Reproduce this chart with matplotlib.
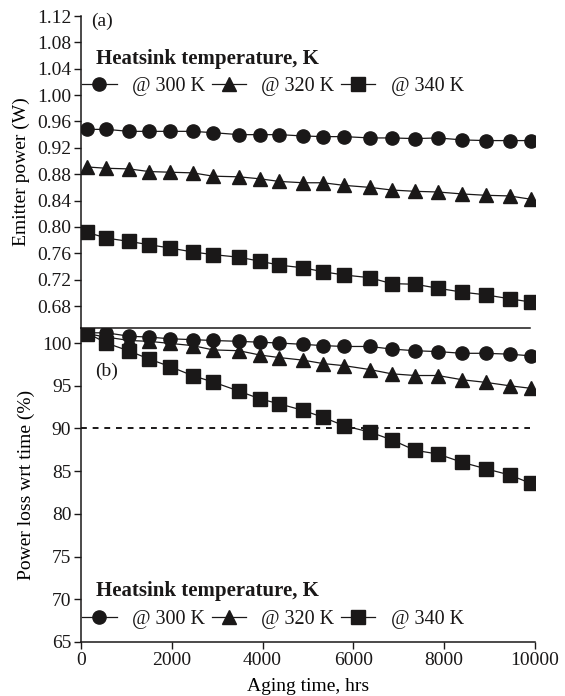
import numpy as np
import matplotlib
matplotlib.use('Agg')
import matplotlib.pyplot as plt
from matplotlib.ticker import FormatStrFormatter

plt.rcParams['font.family'] = ['Liberation Serif', 'DejaVu Serif']
plt.rcParams['font.size'] = 14

# aging time of each measurement (hrs)
hours = [125, 560, 1060, 1500, 1960, 2460, 2910, 3480, 3940, 4370, 4890,
         5330, 5800, 6360, 6840, 7360, 7860, 8400, 8910, 9440, 9910]

# emitter power (W)
power_300 = [0.948, 0.948, 0.945, 0.945, 0.945, 0.945, 0.943, 0.940, 0.940, 0.940, 0.938,
             0.937, 0.937, 0.935, 0.935, 0.934, 0.935, 0.932, 0.931, 0.931, 0.931]
power_320 = [0.891, 0.889, 0.888, 0.884, 0.883, 0.882, 0.877, 0.876, 0.873, 0.869, 0.867,
             0.867, 0.863, 0.860, 0.856, 0.854, 0.853, 0.850, 0.848, 0.847, 0.842]
power_340 = [0.792, 0.783, 0.778, 0.773, 0.768, 0.762, 0.758, 0.754, 0.748, 0.742, 0.738,
             0.732, 0.727, 0.723, 0.714, 0.713, 0.707, 0.701, 0.697, 0.691, 0.686]

# power relative to start (%)
loss_300 = [101.2, 101.2, 100.8, 100.7, 100.5, 100.4, 100.3, 100.2, 100.1, 100.0, 99.85,
            99.7, 99.6, 99.6, 99.3, 99.1, 99.0, 98.8, 98.8, 98.7, 98.5]
loss_320 = [101.1, 100.7, 100.3, 100.2, 99.96, 99.7, 99.2, 99.1, 98.6, 98.3, 98.0,
            97.6, 97.35, 96.9, 96.4, 96.2, 96.2, 95.7, 95.4, 95.0, 94.7]
loss_340 = [101.2, 100.0, 99.07, 98.13, 97.25, 96.18, 95.44, 94.37, 93.47, 92.88, 92.12,
            91.31, 90.31, 89.58, 88.68, 87.44, 87.01, 86.03, 85.29, 84.56, 83.57]

labels = ['@ 300 K', '@ 320 K', '@ 340 K']
markers = ['o', '^', 's']
ink = '#1a1818'
legend_title = 'Heatsink temperature, K'

fig = plt.figure(figsize=(5.65, 6.96), dpi=100)
ax2 = fig.add_axes([0.1434, 0.0776, 0.8035, 0.4511])
ax1 = fig.add_axes([0.1434, 0.5287, 0.8035, 0.4483])
ax1.patch.set_alpha(0)
ax2.patch.set_alpha(0)


def style_axes(ax):
    ax.spines['top'].set_visible(False)
    ax.spines['right'].set_visible(False)
    ax.tick_params(direction='out', length=5, width=1, colors=ink, pad=2)
    for s in ax.spines.values():
        s.set_color(ink)
        s.set_linewidth(1.1)


def add_legend(ax, title_y, row_y):
    # title drawn separately so it sits indented like the original
    ax.text(0.033, title_y, legend_title, transform=ax.transAxes, fontweight='bold',
            fontsize=15, va='center', ha='left', color=ink)
    ax.legend(ncol=3, loc='center left', bbox_to_anchor=(-0.015, row_y), frameon=False,
              handlelength=1.7, handletextpad=0.75, columnspacing=0.35, borderaxespad=0,
              prop={'size': 14.5}, labelcolor=ink)


# (a) emitter power
for y, m, lab in zip([power_300, power_320, power_340], markers, labels):
    ax1.plot(hours, y, color=ink, lw=0.9, marker=m, ms=9.5, mfc=ink, mec=ink, label=lab)
ax1.set_xlim(0, 10000)
ax1.set_ylim(0.6466, 1.12)
ax1.set_yticks(np.arange(0.68, 1.1201, 0.04))
ax1.yaxis.set_major_formatter(FormatStrFormatter('%.2f'))
ax1.set_xticks([])
style_axes(ax1)
ax1.spines['bottom'].set_bounds(0, 9900)
ax1.set_ylabel('Emitter power (W)', labelpad=5)
ax1.text(0.022, 1.01, '(a)', transform=ax1.transAxes, va='top', ha='left', color=ink)
add_legend(ax1, 0.862, 0.775)

# (b) power loss
for y, m, lab in zip([loss_300, loss_320, loss_340], markers, labels):
    ax2.plot(hours, y, color=ink, lw=0.9, marker=m, ms=9.5, mfc=ink, mec=ink, label=lab)
ax2.hlines(90, 0, 9900, colors=ink, linestyles=(0, (3, 3)), lw=1.4)
ax2.set_xlim(0, 10000)
ax2.set_ylim(65, 101.76)
ax2.set_yticks(np.arange(65, 101, 5))
ax2.set_xticks(np.arange(0, 10001, 2000))
style_axes(ax2)
ax2.set_ylabel('Power loss wrt time (%)', labelpad=5)
ax2.set_xlabel('Aging time, hrs', labelpad=7)
ax2.text(0.03, 0.89, '(b)', transform=ax2.transAxes, va='top', ha='left', color=ink)
add_legend(ax2, 0.163, 0.073)

fig.savefig('out.png', dpi=100)
